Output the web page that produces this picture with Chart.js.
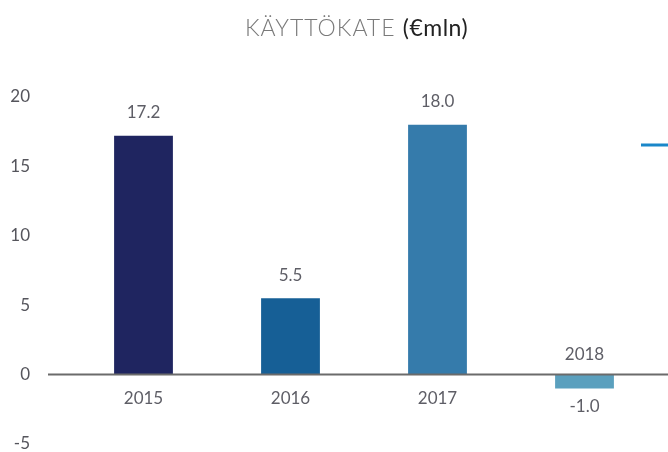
<!DOCTYPE html>
<html>
<head>
<meta charset="utf-8">
<script src="https://cdn.jsdelivr.net/npm/chart.js@4"></script>
<style>
  html, body { margin: 0; padding: 0; background: #fff; overflow: hidden; }
  #wrap { position: relative; width: 668px; height: 452px; }
  #title {
    position: absolute; top: 13px; left: 245px; white-space: nowrap;
    font-family: Lato, sans-serif; font-size: 23px; font-weight: 300; letter-spacing: 1px;
    color: #7a7a7a;
  }
  #title span { color: #222; font-weight: 400; letter-spacing: 0.5px; }
</style>
</head>
<body>
<div id="wrap">
  <canvas id="kate_chart"></canvas>
  <div id="title">KÄYTTÖKATE <span>(€mln)</span></div>
</div>
<script>
const years = ["2015", "2016", "2017", "2018"];
const ebitda = [17.2, 5.5, 18.0, -1.0];
const barColors = ["#1f2560", "#165f96", "#357bab", "#5ba0be"];
const yTicks = [-5, 0, 5, 10, 15, 20];

const labelFont = "17px Lato, sans-serif";

// zero line, year labels at the axis and value labels
const barLabels = {
    id: "barLabels",
    afterDatasetsDraw(chart) {
        const ctx = chart.ctx;
        const y = chart.scales.y;
        const zero = y.getPixelForValue(0);
        ctx.save();
        ctx.strokeStyle = "#6b6b6b";
        ctx.lineWidth = 2;
        ctx.beginPath();
        ctx.moveTo(48, zero);
        ctx.lineTo(chart.width, zero);
        ctx.stroke();

        ctx.font = labelFont;
        ctx.fillStyle = "#5e5e66";
        ctx.textAlign = "center";
        ctx.textBaseline = "middle";
        chart.getDatasetMeta(0).data.forEach((bar, i) => {
            const v = ebitda[i];
            if (v >= 0) {
                ctx.fillText(years[i], bar.x, zero + 24);
                ctx.fillText(v.toFixed(1), bar.x, bar.y - 23);
            } else {
                ctx.fillText(years[i], bar.x, zero - 20);
                ctx.fillText(v.toFixed(1), bar.x, bar.y + 18);
            }
        });

        // small fragment visible on the right edge
        ctx.strokeStyle = "#1a87c9";
        ctx.lineWidth = 3;
        ctx.beginPath();
        ctx.moveTo(641, 145);
        ctx.lineTo(chart.width, 145);
        ctx.stroke();
        ctx.restore();
    },
};

new Chart(document.getElementById("kate_chart"), {
    type: "bar",
    data: {
        labels: years,
        datasets: [
            {
                data: ebitda,
                backgroundColor: barColors,
                barPercentage: 0.8,
                categoryPercentage: 0.5,
            },
        ],
    },
    options: {
        responsive: true,
        maintainAspectRatio: false,
        animation: false,
        layout: { padding: { top: 97, right: 10, bottom: 8, left: 0 } },
        plugins: {
            legend: { display: false },
            tooltip: { enabled: false },
        },
        scales: {
            x: { display: false },
            y: {
                min: yTicks[0],
                max: yTicks[yTicks.length - 1],
                afterFit: (s) => {
                    s.width = 70;
                    s.paddingTop = 0;
                    s.paddingBottom = 0;
                },
                afterBuildTicks: (s) => { s.ticks = yTicks.map((v) => ({ value: v })); },
                border: { display: false },
                grid: { display: false, drawTicks: false },
                ticks: {
                    padding: 40,
                    color: "#55555c",
                    font: { family: "Lato, sans-serif", size: 17 },
                },
            },
        },
    },
    plugins: [barLabels],
});
</script>
</body>
</html>
